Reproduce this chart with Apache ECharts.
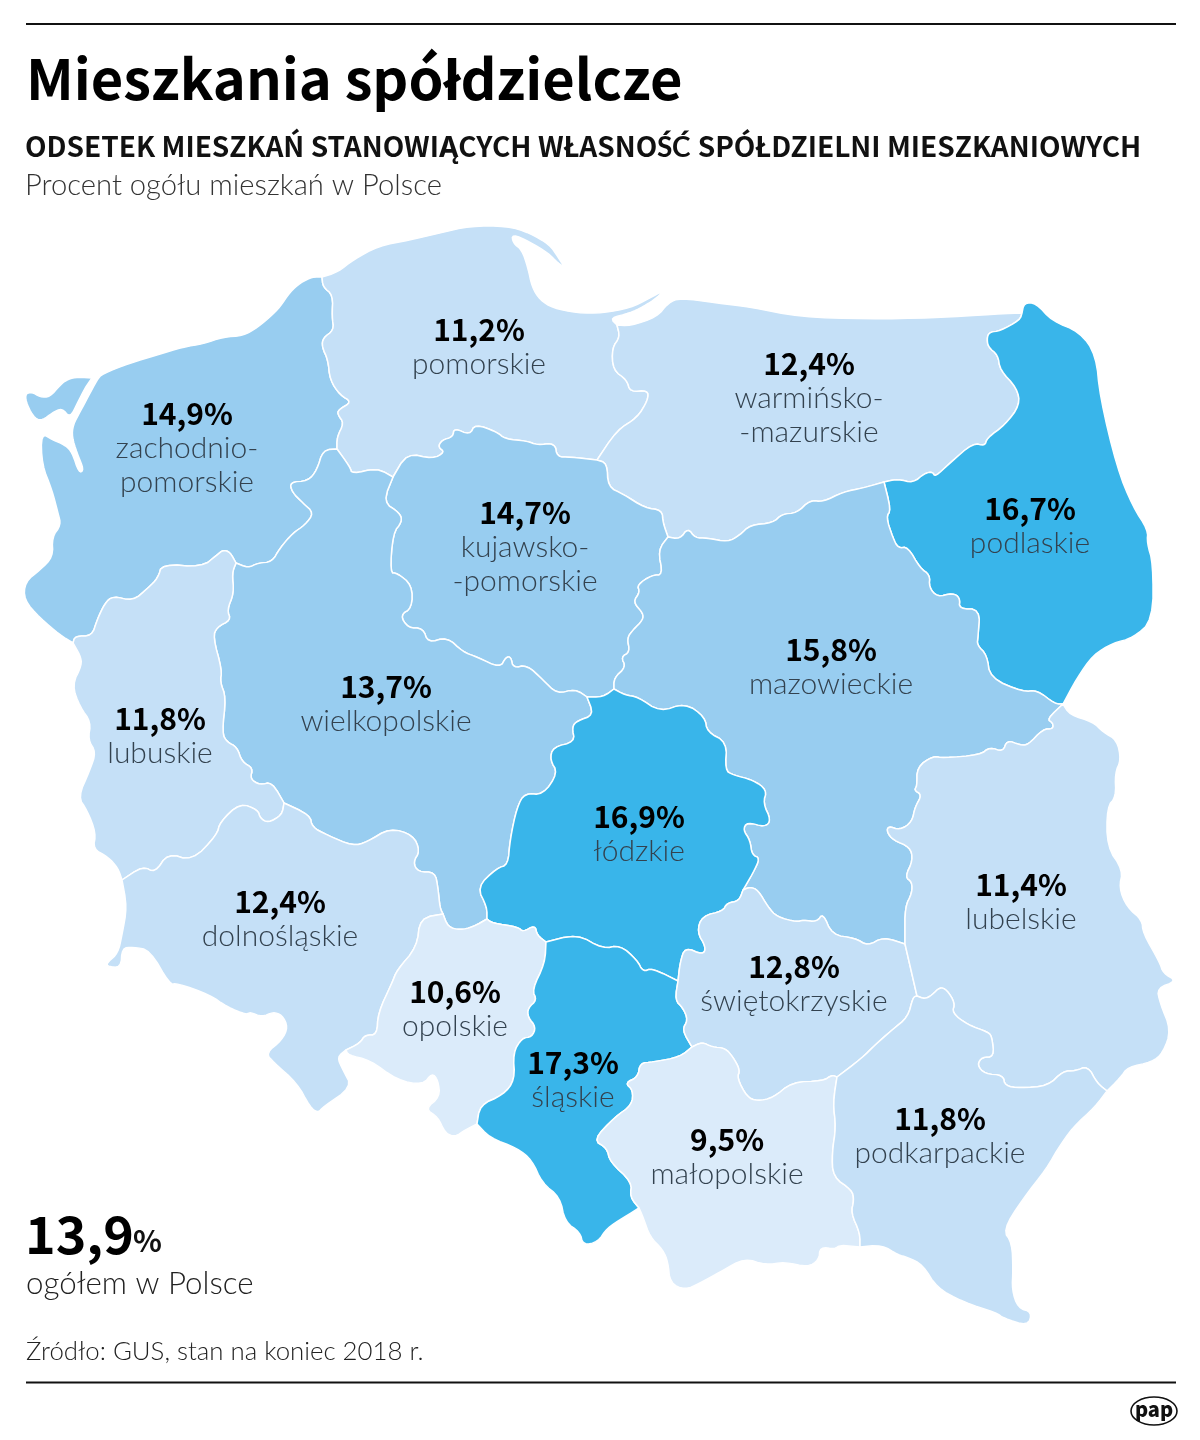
<!DOCTYPE html>
<html><head><meta charset="utf-8">
<style>html,body{margin:0;padding:0;background:#fff}#c{width:1200px;height:1440px}
@font-face{font-family:"PLfix";font-weight:700;src:local("Lato Bold"),local("Lato-Bold"),local("Noto Sans Bold");unicode-range:U+015A,U+015B,U+0106,U+0107,U+0179,U+017A;}
</style>
<script src="https://cdn.jsdelivr.net/npm/echarts@6/dist/echarts.min.js"></script>
</head><body><div id="c"></div>
<script>
// ---- data ----
const regionNames = ['zachodniopomorskie','pomorskie','warmińsko-mazurskie','podlaskie','kujawsko-pomorskie','wielkopolskie','lubuskie','mazowieckie','łódzkie','dolnośląskie','opolskie','śląskie','świętokrzyskie','lubelskie','małopolskie','podkarpackie'];
const regionValues = [14.9,11.2,12.4,16.7,14.7,13.7,11.8,15.8,16.9,12.4,10.6,17.3,12.8,11.4,9.5,11.8];
const regionLabelLines = ['zachodnio-|pomorskie','pomorskie','warmińsko-|-mazurskie','podlaskie','kujawsko-|-pomorskie','wielkopolskie','lubuskie','mazowieckie','łódzkie','dolnośląskie','opolskie','śląskie','świętokrzyskie','lubelskie','małopolskie','podkarpackie'];
const labelAnchors = [[187,448],[479,347],[809,398],[1030,526],[525,547],[386,704],[160,736],[831,667],[639,834],[280,919],[455,1009],[573,1080],[794,984],[1021,902],[727,1157],[940,1136]];
const classBreaks = [11,13,16];
const classColors = ['#DBEBFA','#C5E0F7','#98CDF0','#39B5EA'];
const titleText = 'Mieszkania spółdzielcze';
const subtitleText = 'ODSETEK MIESZKAŃ STANOWIĄCYCH WŁASNOŚĆ SPÓŁDZIELNI MIESZKANIOWYCH';
const unitText = 'Procent ogółu mieszkań w Polsce';
const totalValue = '13,9';
const totalCaption = 'ogółem w Polsce';
const sourceText = 'Źródło: GUS, stan na koniec 2018 r.';

// ---- map outline arcs (traced boundaries, shared between neighbours) ----
const A=[322,277],B=[337,449],C=[393,477],D=[597,460],E=[617,325],F=[668,537],G=[884,482],H=[1022,313],I=[1063,704],
 Jn=[236,563],K=[73,643],L=[284,803],M=[122,880],N=[587,697],N2=[614,689],O=[443,914],P=[487,919],Q=[546,942],R=[678,981],
 S=[743,890],T=[905,944],V=[917,996],W=[837,1077],X=[692,1047],Y=[477,1124],Z=[639,1208],AA=[860,1247],AB=[1107,1091],AC=[346,1050];
const wolin=[[92,378],[78,377],[68,379],[60,385],[50,397],[40,397],[32,392],[25,394],[27,405],[35,419],[43,420],[52,413],[62,408],[70,418],[78,402],[85,388]];
const coastW=[A,[312,277],[300,283],[290,292],[280,307],[270,317],[258,327],[243,336],[223,337],[203,344],[183,347],[157,355],[130,363],[102,374],[97,380],[88,397],[80,412],[73,425],[72,437],[77,453],[84,470],[79,473],[72,452],[65,445],[53,440],[41,433],[42,465],[52,490],[58,513],[61,525],[52,537],[53,557],[40,570],[25,582],[24,600],[40,618],[60,635],K];
const coastP=[A,[338,272],[353,260],[378,246],[410,240],[440,233],[470,226],[507,226],[530,233],[550,245],[558,257],[565,268],[558,263],[548,253],[530,242],[512,234],[513,243],[522,250],[528,268],[532,287],[540,300],[553,308],[577,313],[603,313],[630,308],[650,298],[664,290],[658,297],[643,307],[630,313],[610,318],E];
const coastWM=[E,[630,326],[657,317],[668,303],[680,298],[717,303],[750,307],[800,317],[867,319],[933,318],[997,314],H];
const AB_arc=[A,[323,287],[333,295],[332,317],[334,330],[323,338],[322,347],[328,360],[330,380],[340,395],[352,402],[338,410],[338,415],[344,423],[337,437],B];
const BJ=[B,[323,450],[317,470],[308,481],[290,482],[292,492],[303,503],[314,513],[305,525],[293,533],[280,548],[272,562],[258,563],[248,568],Jn];
const JK=[Jn,[230,552],[223,550],[217,555],[202,567],[162,564],[158,578],[148,588],[133,601],[113,596],[105,603],[97,620],[92,636],[75,636],K];
const KM=[K,[80,655],[82,665],[72,685],[80,707],[91,722],[88,740],[96,752],[90,770],[78,797],[87,810],[96,833],[93,849],[108,857],[118,868],M];
const JL=[Jn,[232,573],[234,593],[227,610],[231,620],[217,627],[213,637],[222,670],[220,682],[226,697],[222,733],[227,742],[237,747],[242,762],[253,768],[250,779],[260,785],[272,782],L];
const LM=[L,[282,815],[268,823],[260,818],[258,810],[240,803],[220,822],[217,835],[192,861],[168,853],[155,873],[143,866],M];
const LO=[L,[310,815],[312,827],[327,835],[353,846],[367,842],[390,828],[413,835],[420,851],[413,862],[418,872],[435,872],[438,888],[440,908],O];
const OAC=[O,[420,918],[417,947],[397,970],[392,983],[378,1013],[377,1035],[365,1035],[360,1043],AC];
const MAC=[M,[127,907],[122,935],[118,953],[108,962],[106,966],[121,968],[122,948],[133,947],[150,950],[170,985],[177,983],[210,995],[227,1007],[247,1015],[250,1012],[262,1017],[273,1012],[282,1015],[288,1027],[282,1040],[266,1053],[273,1062],[297,1083],[310,1107],[318,1113],[323,1107],[352,1087],[343,1070],[337,1057],AC];
const ACY=[AC,[348,1055],[370,1060],[397,1080],[423,1085],[432,1073],[438,1080],[440,1097],[425,1109],[438,1117],[445,1133],[455,1137],[465,1130],Y];
const OP=[O,[448,927],[460,930],[473,927],P];
const PQ=[P,[492,923],[518,927],[523,932],[535,925],[537,935],Q];
const QY=[Q,[545,963],[532,990],[537,1000],[528,1008],[528,1017],[536,1027],[532,1037],[522,1038],[513,1053],[515,1080],[503,1095],[480,1105],Y];
const QR=[Q,[577,934],[603,949],[620,945],[637,960],[643,972],[652,968],R];
const RX=[R,[675,1000],[683,1008],[688,1020],[682,1030],X];
const XZ=[X,[680,1057],[653,1062],[640,1063],[638,1077],[625,1083],[633,1090],[632,1105],[615,1117],[593,1140],[607,1148],[610,1162],[632,1182],[630,1197],Z];
const YZ=[Y,[490,1138],[517,1148],[532,1160],[542,1183],[560,1197],[565,1222],[580,1232],[583,1245],[598,1242],[607,1228],[623,1218],Z];
const ZAA=[Z,[643,1217],[650,1237],[663,1250],[668,1262],[670,1283],[685,1290],[700,1283],[720,1272],[745,1258],[765,1265],[785,1262],[808,1267],[819,1260],[820,1247],[835,1249],[840,1245],AA];
const XW=[X,[702,1042],[712,1047],[725,1048],[733,1057],[740,1070],[737,1078],[747,1097],[757,1101],[773,1098],[792,1082],[823,1081],[832,1075],W];
const WAA=[W,[833,1103],[836,1127],[832,1153],[833,1177],[852,1190],[854,1200],[851,1213],[860,1233],AA];
const WV=[W,[862,1058],[875,1045],[892,1030],[908,1017],[913,997],V];
const VT=[V,T];
const TS=[T,[883,937],[868,946],[855,938],[832,935],[823,913],[817,922],[803,920],[797,922],[777,917],[768,907],[758,890],[750,887],S];
const SR=[S,[739,901],[727,903],[723,911],[702,916],[697,932],[706,947],[703,955],[685,947],[680,963],R];
const N2S=[N2,[625,695],[638,697],[660,712],[685,703],[705,717],[707,732],[727,742],[725,770],[733,775],[753,780],[767,790],[763,803],[771,820],[765,827],[747,822],[743,830],[750,840],[752,855],[760,858],[753,873],S];
const NN2=[N,[603,697],N2];
const FN2=[F,[658,550],[663,575],[652,575],[637,585],[640,592],[633,602],[643,613],[643,620],[633,630],[627,638],[630,652],[621,657],[626,667],[614,678],N2];
const CN=[C,[383,502],[400,513],[402,522],[393,533],[390,573],[397,573],[412,585],[412,608],[400,615],[408,628],[423,628],[428,643],[447,637],[463,652],[477,657],[500,668],[506,657],[511,657],[513,668],[527,665],[543,680],[557,694],[575,689],N];
const CD=[C,[407,453],[433,459],[445,452],[438,447],[442,440],[453,437],[454,428],[470,435],[475,424],[497,432],[505,439],[527,441],[537,445],[555,443],[557,457],[570,457],D];
const ED=[E,[620,337],[612,348],[613,370],[627,380],[630,392],[648,390],[648,400],[637,418],[617,430],D];
const DF=[D,[607,463],[608,487],[623,494],[645,508],[662,510],[663,523],F];
const FG=[F,[680,539],[688,528],[695,538],[707,538],[728,542],[740,535],[750,525],[773,523],[782,514],[797,513],[810,500],[823,502],[843,492],[863,488],G];
const GH=[G,[898,479],[913,483],[925,473],[933,472],[935,477],[950,463],[973,443],[985,446],[987,438],[1005,425],[1020,405],[1017,388],[1000,370],[998,355],[988,347],[987,337],[990,332],[1000,331],[1020,320],H];
const GI=[G,[891,510],[886,517],[893,538],[898,548],[908,547],[920,568],[930,575],[929,587],[937,597],[953,593],[960,598],[959,609],[980,609],[978,637],[977,645],[987,655],[990,678],[1023,692],[1037,690],[1055,704],I];
const HI=[H,[1024,303],[1036,303],[1052,321],[1080,332],[1096,355],[1100,397],[1117,468],[1133,507],[1148,530],[1147,543],[1153,563],[1153,620],[1133,638],[1113,643],[1093,655],[1077,678],I];
const BC=[B,[350,467],[352,474],[377,468],C];
const NP=[N,[594,715],[577,721],[572,727],[575,742],[553,747],[550,760],[558,773],[543,795],[525,793],[517,807],[510,840],[508,865],[497,868],[477,887],[487,907],P];
const IAB=[I,[1070,715],[1093,722],[1103,732],[1117,740],[1121,760],[1115,773],[1116,797],[1107,807],[1107,847],[1123,870],[1119,888],[1127,907],[1142,920],[1143,933],[1160,963],[1163,973],[1177,981],[1157,988],[1160,1003],[1171,1030],[1163,1053],[1152,1062],[1128,1067],[1120,1078],AB];
const IT=[I,[1047,719],[1053,723],[1053,729],[1043,729],[1028,745],[1020,745],[1007,740],[1003,752],[990,747],[980,755],[943,758],[933,756],[917,767],[917,787],[914,790],[922,795],[915,807],[912,822],[900,830],[888,826],[887,832],[893,840],[910,847],[913,860],[905,877],[912,882],[912,893],[905,907],[905,937],T];
const VAB=[V,[925,999],[932,995],[940,987],[947,990],[955,1003],[952,1013],[968,1025],[988,1032],[992,1037],[994,1057],[982,1057],[977,1065],[985,1074],[1003,1075],[1005,1086],[1020,1088],[1048,1086],[1063,1071],[1075,1071],[1088,1066],[1097,1083],AB];
const ABAA=[AB,[1095,1107],[1073,1127],[1057,1150],[1047,1168],[1022,1200],[1003,1230],[1012,1243],[1013,1270],[1012,1290],[1018,1308],[1032,1312],[1028,1326],[1003,1318],[997,1313],[963,1302],[937,1288],[923,1265],[907,1257],[898,1255],[882,1245],AA];

// corner rounding of an arc; endpoints stay on the shared junctions
const roundCorners=a=>{let p=a;for(let k=0;k<2;k++){if(p.length<3)return p;const o=[p[0]];for(let i=0;i<p.length-1;i++){const u=p[i],v=p[i+1];if(i>0)o.push([.75*u[0]+.25*v[0],.75*u[1]+.25*v[1]]);if(i<p.length-2)o.push([.25*u[0]+.75*v[0],.25*u[1]+.75*v[1]]);}o.push(p[p.length-1]);p=o;}return p;};
const rev=a=>a.slice().reverse();
const ring=(...arcs)=>{const out=[];arcs.forEach(a=>roundCorners(a).forEach(p=>{const l=out[out.length-1];if(!l||l[0]!==p[0]||l[1]!==p[1])out.push(p);}));out.push(out[0]);return out;};
const closed=a=>a.concat([a[0]]);
const regionRings=[
 [ring(coastW,rev(JK),rev(BJ),rev(AB_arc)),ring(closed(wolin))],
 [ring(coastP,ED,rev(CD),rev(BC),rev(AB_arc))],
 [ring(coastWM,rev(GH),rev(FG),rev(DF),rev(ED))],
 [ring(HI,rev(GI),GH)],
 [ring(CD,DF,FN2,rev(NN2),rev(CN))],
 [ring(BC,CN,NP,rev(OP),rev(LO),rev(JL),rev(BJ))],
 [ring(JL,LM,rev(KM),rev(JK))],
 [ring(FG,GI,IT,TS,rev(N2S),rev(FN2))],
 [ring(NN2,N2S,SR,rev(QR),rev(PQ),rev(NP))],
 [ring(LO,OAC,rev(MAC),rev(LM))],
 [ring(OP,PQ,QY,rev(ACY),rev(OAC))],
 [ring(QR,RX,XZ,rev(YZ),rev(QY))],
 [ring(rev(TS),rev(VT),rev(WV),rev(XW),rev(RX),rev(SR))],
 [ring(IAB,rev(VAB),VT,rev(IT))],
 [ring(XW,WAA,rev(ZAA),rev(XZ))],
 [ring(WV,VAB,ABAA,rev(WAA))]
];
const geo={type:'FeatureCollection',features:regionNames.map((n,i)=>({type:'Feature',properties:{name:n,cp:labelAnchors[i]},geometry:regionRings[i].length>1?{type:'MultiPolygon',coordinates:regionRings[i].map(r=>[r])}:{type:'Polygon',coordinates:[regionRings[i][0]]}}))};
echarts.registerMap('pl',geo);

const fmt=v=>v.toFixed(1).replace('.',',')+'%';
const FB='"PLfix","Noto Sans CJK SC","Noto Sans",sans-serif';
const FL='"Lato","Noto Sans",sans-serif';
const chart=echarts.init(document.getElementById('c'),null,{renderer:'canvas'});
const txt=(x,y,t,size,w,col,fam,extra)=>({type:'text',x,y,silent:true,style:Object.assign({text:t,fontFamily:fam,fontSize:size,fontWeight:w,fill:col,textVerticalAlign:'middle'},extra||{})});
function draw(){
chart.setOption({
 animation:false,backgroundColor:'#fff',
 visualMap:{show:false,type:'piecewise',seriesIndex:0,pieces:[
  {max:classBreaks[0],color:classColors[0]},
  {min:classBreaks[0],max:classBreaks[1],color:classColors[1]},
  {min:classBreaks[1],max:classBreaks[2],color:classColors[2]},
  {min:classBreaks[2],color:classColors[3]}]},
 series:[{type:'map',map:'pl',silent:true,roam:false,
  projection:{project:p=>p,unproject:p=>p},
  boundingCoords:[[0,0],[1200,1440]],layoutCenter:['50%','50%'],layoutSize:1440,
  itemStyle:{borderColor:'#fff',borderWidth:1.5},
  emphasis:{disabled:true},select:{disabled:true},
  label:{show:true,formatter:p=>{const i=regionNames.indexOf(p.name);return '{v|'+fmt(regionValues[i])+'}\n'+regionLabelLines[i].split('|').map(s=>'{n|'+s+'}').join('\n');},
   rich:{v:{fontFamily:FB,fontSize:30,fontWeight:700,color:'#000',lineHeight:34,align:'center'},n:{fontFamily:FL,fontSize:30,fontWeight:300,color:'#33424f',lineHeight:34,align:'center'}}},
  data:regionNames.map((n,i)=>({name:n,value:regionValues[i]}))}],
 graphic:{elements:[
  {type:'rect',silent:true,shape:{x:26,y:23,width:1150,height:2},style:{fill:'#111'}},
  {type:'rect',silent:true,shape:{x:26,y:1381.5,width:1150,height:2},style:{fill:'#111'}},
  txt(26,79,titleText,56,700,'#000',FB),
  txt(25,146,subtitleText,28,700,'#111',FB),
  txt(25,186,unitText,29.2,300,'#333',FL),
  txt(25,1234,totalValue,52,700,'#000',FB),
  txt(133,1241,'%',30,700,'#111',FB),
  txt(26,1284,totalCaption,31.3,300,'#222',FL),
  txt(26,1352,sourceText,25.8,300,'#222',FL),
  {type:'ellipse',silent:true,shape:{cx:1154,cy:1411,rx:23,ry:14},style:{fill:'#fff',stroke:'#111',lineWidth:1.6}},
  txt(1154,1409,'pap',20,900,'#111',FB,{textAlign:'center'})
 ]}
});
}
Promise.all([document.fonts.load('700 28px PLfix','ŚĆśćŹź'),document.fonts.load('300 30px Lato','a')]).then(draw,draw);
</script></body></html>
